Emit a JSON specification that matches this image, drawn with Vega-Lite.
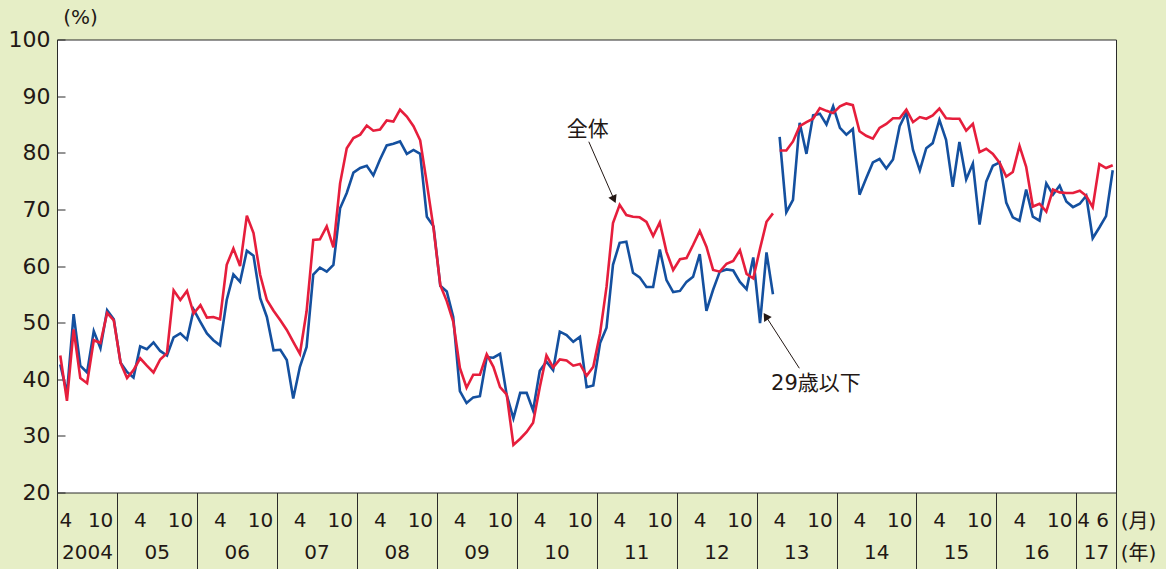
{
  "$schema": "https://vega.github.io/schema/vega-lite/v6.json",
  "width": 1059,
  "height": 453,
  "autosize": {"type": "none"},
  "padding": {"left": 57, "top": 39.5, "right": 50, "bottom": 76.5},
  "background": "#e6eec6",
  "config": {
    "font": "DejaVu Sans, Noto Sans CJK JP",
    "view": {"fill": "#ffffff", "stroke": "#2b2b2b", "strokeWidth": 1},
    "axis": {
      "labelColor": "#231815", "titleColor": "#231815",
      "labelFont": "DejaVu Sans, Noto Sans CJK JP", "titleFont": "DejaVu Sans, Noto Sans CJK JP",
      "titleFontWeight": "normal"
    },
    "axisY": {
      "grid": false, "domain": false,
      "tickSize": -8, "tickColor": "#2b2b2b", "tickWidth": 1,
      "labelPadding": 15, "labelFontSize": 22,
      "titleAngle": 0, "titleX": 23, "titleY": -22,
      "titleAlign": "center", "titleBaseline": "middle", "titleFontSize": 20
    }
  },
  "datasets": {
    "monthly": [
      {"月":"2004-04","区分":"前期","全体":44.2,"29歳以下":42.6},
      {"月":"2004-05","区分":"前期","全体":36.2,"29歳以下":37.5},
      {"月":"2004-06","区分":"前期","全体":48.8,"29歳以下":51.5},
      {"月":"2004-07","区分":"前期","全体":40.2,"29歳以下":42.4},
      {"月":"2004-08","区分":"前期","全体":39.3,"29歳以下":41.2},
      {"月":"2004-09","区分":"前期","全体":46.9,"29歳以下":48.5},
      {"月":"2004-10","区分":"前期","全体":46.4,"29歳以下":45.5},
      {"月":"2004-11","区分":"前期","全体":51.7,"29歳以下":52.2},
      {"月":"2004-12","区分":"前期","全体":50.4,"29歳以下":50.6},
      {"月":"2005-01","区分":"前期","全体":42.9,"29歳以下":42.9},
      {"月":"2005-02","区分":"前期","全体":40.2,"29歳以下":41.3},
      {"月":"2005-03","区分":"前期","全体":41.6,"29歳以下":40.3},
      {"月":"2005-04","区分":"前期","全体":43.7,"29歳以下":45.8},
      {"月":"2005-05","区分":"前期","全体":42.4,"29歳以下":45.3},
      {"月":"2005-06","区分":"前期","全体":41.2,"29歳以下":46.5},
      {"月":"2005-07","区分":"前期","全体":43.5,"29歳以下":45.0},
      {"月":"2005-08","区分":"前期","全体":44.6,"29歳以下":44.2},
      {"月":"2005-09","区分":"前期","全体":55.7,"29歳以下":47.4},
      {"月":"2005-10","区分":"前期","全体":54.0,"29歳以下":48.1},
      {"月":"2005-11","区分":"前期","全体":55.6,"29歳以下":47.0},
      {"月":"2005-12","区分":"前期","全体":51.6,"29歳以下":52.3},
      {"月":"2006-01","区分":"前期","全体":53.1,"29歳以下":50.1},
      {"月":"2006-02","区分":"前期","全体":50.9,"29歳以下":48.1},
      {"月":"2006-03","区分":"前期","全体":51.0,"29歳以下":46.9},
      {"月":"2006-04","区分":"前期","全体":50.6,"29歳以下":46.0},
      {"月":"2006-05","区分":"前期","全体":60.2,"29歳以下":54.0},
      {"月":"2006-06","区分":"前期","全体":63.1,"29歳以下":58.5},
      {"月":"2006-07","区分":"前期","全体":60.0,"29歳以下":57.2},
      {"月":"2006-08","区分":"前期","全体":68.9,"29歳以下":62.7},
      {"月":"2006-09","区分":"前期","全体":65.8,"29歳以下":61.8},
      {"月":"2006-10","区分":"前期","全体":58.4,"29歳以下":54.3},
      {"月":"2006-11","区分":"前期","全体":54.0,"29歳以下":51.0},
      {"月":"2006-12","区分":"前期","全体":52.1,"29歳以下":45.1},
      {"月":"2007-01","区分":"前期","全体":50.4,"29歳以下":45.2},
      {"月":"2007-02","区分":"前期","全体":48.7,"29歳以下":43.4},
      {"月":"2007-03","区分":"前期","全体":46.6,"29歳以下":36.6},
      {"月":"2007-04","区分":"前期","全体":44.5,"29歳以下":42.2},
      {"月":"2007-05","区分":"前期","全体":52.0,"29歳以下":45.7},
      {"月":"2007-06","区分":"前期","全体":64.6,"29歳以下":58.5},
      {"月":"2007-07","区分":"前期","全体":64.7,"29歳以下":59.7},
      {"月":"2007-08","区分":"前期","全体":67.0,"29歳以下":59.0},
      {"月":"2007-09","区分":"前期","全体":63.3,"29歳以下":60.2},
      {"月":"2007-10","区分":"前期","全体":74.6,"29歳以下":70.2},
      {"月":"2007-11","区分":"前期","全体":80.8,"29歳以下":72.9},
      {"月":"2007-12","区分":"前期","全体":82.6,"29歳以下":76.5},
      {"月":"2008-01","区分":"前期","全体":83.2,"29歳以下":77.3},
      {"月":"2008-02","区分":"前期","全体":84.8,"29歳以下":77.7},
      {"月":"2008-03","区分":"前期","全体":83.9,"29歳以下":76.0},
      {"月":"2008-04","区分":"前期","全体":84.1,"29歳以下":78.8},
      {"月":"2008-05","区分":"前期","全体":85.7,"29歳以下":81.3},
      {"月":"2008-06","区分":"前期","全体":85.5,"29歳以下":81.6},
      {"月":"2008-07","区分":"前期","全体":87.6,"29歳以下":82.0},
      {"月":"2008-08","区分":"前期","全体":86.4,"29歳以下":79.8},
      {"月":"2008-09","区分":"前期","全体":84.7,"29歳以下":80.5},
      {"月":"2008-10","区分":"前期","全体":82.2,"29歳以下":79.8},
      {"月":"2008-11","区分":"前期","全体":74.6,"29歳以下":68.7},
      {"月":"2008-12","区分":"前期","全体":66.7,"29歳以下":67.0},
      {"月":"2009-01","区分":"前期","全体":56.6,"29歳以下":56.5},
      {"月":"2009-02","区分":"前期","全体":53.8,"29歳以下":55.5},
      {"月":"2009-03","区分":"前期","全体":50.2,"29歳以下":51.0},
      {"月":"2009-04","区分":"前期","全体":42.0,"29歳以下":37.9},
      {"月":"2009-05","区分":"前期","全体":38.5,"29歳以下":35.8},
      {"月":"2009-06","区分":"前期","全体":40.8,"29歳以下":36.8},
      {"月":"2009-07","区分":"前期","全体":40.8,"29歳以下":37.0},
      {"月":"2009-08","区分":"前期","全体":44.4,"29歳以下":43.9},
      {"月":"2009-09","区分":"前期","全体":42.2,"29歳以下":43.8},
      {"月":"2009-10","区分":"前期","全体":38.6,"29歳以下":44.5},
      {"月":"2009-11","区分":"前期","全体":37.3,"29歳以下":37.2},
      {"月":"2009-12","区分":"前期","全体":28.4,"29歳以下":33.1},
      {"月":"2010-01","区分":"前期","全体":29.5,"29歳以下":37.6},
      {"月":"2010-02","区分":"前期","全体":30.7,"29歳以下":37.6},
      {"月":"2010-03","区分":"前期","全体":32.3,"29歳以下":34.5},
      {"月":"2010-04","区分":"前期","全体":38.6,"29歳以下":41.5},
      {"月":"2010-05","区分":"前期","全体":44.2,"29歳以下":43.1},
      {"月":"2010-06","区分":"前期","全体":42.1,"29歳以下":41.6},
      {"月":"2010-07","区分":"前期","全体":43.5,"29歳以下":48.4},
      {"月":"2010-08","区分":"前期","全体":43.3,"29歳以下":47.8},
      {"月":"2010-09","区分":"前期","全体":42.4,"29歳以下":46.6},
      {"月":"2010-10","区分":"前期","全体":42.7,"29歳以下":47.5},
      {"月":"2010-11","区分":"前期","全体":40.6,"29歳以下":38.6},
      {"月":"2010-12","区分":"前期","全体":42.2,"29歳以下":38.9},
      {"月":"2011-01","区分":"前期","全体":48.1,"29歳以下":46.4},
      {"月":"2011-02","区分":"前期","全体":56.3,"29歳以下":49.1},
      {"月":"2011-03","区分":"前期","全体":67.6,"29歳以下":60.2},
      {"月":"2011-04","区分":"前期","全体":70.8,"29歳以下":64.1},
      {"月":"2011-05","区分":"前期","全体":69.0,"29歳以下":64.3},
      {"月":"2011-06","区分":"前期","全体":68.7,"29歳以下":58.8},
      {"月":"2011-07","区分":"前期","全体":68.6,"29歳以下":58.0},
      {"月":"2011-08","区分":"前期","全体":67.8,"29歳以下":56.3},
      {"月":"2011-09","区分":"前期","全体":65.3,"29歳以下":56.3},
      {"月":"2011-10","区分":"前期","全体":67.7,"29歳以下":62.9},
      {"月":"2011-11","区分":"前期","全体":62.5,"29歳以下":57.5},
      {"月":"2011-12","区分":"前期","全体":59.3,"29歳以下":55.4},
      {"月":"2012-01","区分":"前期","全体":61.2,"29歳以下":55.6},
      {"月":"2012-02","区分":"前期","全体":61.4,"29歳以下":57.2},
      {"月":"2012-03","区分":"前期","全体":63.7,"29歳以下":58.1},
      {"月":"2012-04","区分":"前期","全体":66.2,"29歳以下":62.1},
      {"月":"2012-05","区分":"前期","全体":63.4,"29歳以下":52.1},
      {"月":"2012-06","区分":"前期","全体":59.3,"29歳以下":55.8},
      {"月":"2012-07","区分":"前期","全体":59.0,"29歳以下":59.0},
      {"月":"2012-08","区分":"前期","全体":60.4,"29歳以下":59.4},
      {"月":"2012-09","区分":"前期","全体":60.9,"29歳以下":59.2},
      {"月":"2012-10","区分":"前期","全体":62.8,"29歳以下":57.2},
      {"月":"2012-11","区分":"前期","全体":58.6,"29歳以下":55.9},
      {"月":"2012-12","区分":"前期","全体":57.8,"29歳以下":61.5},
      {"月":"2013-01","区分":"前期","全体":63.1,"29歳以下":49.9},
      {"月":"2013-02","区分":"前期","全体":67.8,"29歳以下":62.4},
      {"月":"2013-03","区分":"前期","全体":69.3,"29歳以下":55.0},
      {"月":"2013-04","区分":"後期","全体":80.4,"29歳以下":82.8},
      {"月":"2013-05","区分":"後期","全体":80.4,"29歳以下":69.5},
      {"月":"2013-06","区分":"後期","全体":82.0,"29歳以下":71.7},
      {"月":"2013-07","区分":"後期","全体":84.7,"29歳以下":85.3},
      {"月":"2013-08","区分":"後期","全体":85.4,"29歳以下":79.8},
      {"月":"2013-09","区分":"後期","全体":86.0,"29歳以下":86.6},
      {"月":"2013-10","区分":"後期","全体":87.9,"29歳以下":86.9},
      {"月":"2013-11","区分":"後期","全体":87.4,"29歳以下":85.0},
      {"月":"2013-12","区分":"後期","全体":87.0,"29歳以下":88.2},
      {"月":"2014-01","区分":"後期","全体":88.2,"29歳以下":84.4},
      {"月":"2014-02","区分":"後期","全体":88.7,"29歳以下":83.2},
      {"月":"2014-03","区分":"後期","全体":88.4,"29歳以下":84.2},
      {"月":"2014-04","区分":"後期","全体":83.8,"29歳以下":72.6},
      {"月":"2014-05","区分":"後期","全体":83.0,"29歳以下":75.5},
      {"月":"2014-06","区分":"後期","全体":82.5,"29歳以下":78.3},
      {"月":"2014-07","区分":"後期","全体":84.4,"29歳以下":78.9},
      {"月":"2014-08","区分":"後期","全体":85.1,"29歳以下":77.2},
      {"月":"2014-09","区分":"後期","全体":86.1,"29歳以下":78.8},
      {"月":"2014-10","区分":"後期","全体":86.1,"29歳以下":84.7},
      {"月":"2014-11","区分":"後期","全体":87.6,"29歳以下":87.1},
      {"月":"2014-12","区分":"後期","全体":85.4,"29歳以下":80.5},
      {"月":"2015-01","区分":"後期","全体":86.3,"29歳以下":76.9},
      {"月":"2015-02","区分":"後期","全体":86.0,"29歳以下":80.8},
      {"月":"2015-03","区分":"後期","全体":86.6,"29歳以下":81.7},
      {"月":"2015-04","区分":"後期","全体":87.8,"29歳以下":85.8},
      {"月":"2015-05","区分":"後期","全体":86.1,"29歳以下":82.3},
      {"月":"2015-06","区分":"後期","全体":86.0,"29歳以下":74.0},
      {"月":"2015-07","区分":"後期","全体":86.0,"29歳以下":81.9},
      {"月":"2015-08","区分":"後期","全体":83.9,"29歳以下":75.3},
      {"月":"2015-09","区分":"後期","全体":85.1,"29歳以下":78.1},
      {"月":"2015-10","区分":"後期","全体":80.1,"29歳以下":67.3},
      {"月":"2015-11","区分":"後期","全体":80.7,"29歳以下":74.9},
      {"月":"2015-12","区分":"後期","全体":79.8,"29歳以下":77.7},
      {"月":"2016-01","区分":"後期","全体":78.2,"29歳以下":78.3},
      {"月":"2016-02","区分":"後期","全体":75.8,"29歳以下":71.2},
      {"月":"2016-03","区分":"後期","全体":76.6,"29歳以下":68.6},
      {"月":"2016-04","区分":"後期","全体":81.2,"29歳以下":68.0},
      {"月":"2016-05","区分":"後期","全体":77.5,"29歳以下":73.5},
      {"月":"2016-06","区分":"後期","全体":70.5,"29歳以下":68.7},
      {"月":"2016-07","区分":"後期","全体":71.0,"29歳以下":68.0},
      {"月":"2016-08","区分":"後期","全体":69.6,"29歳以下":74.6},
      {"月":"2016-09","区分":"後期","全体":73.5,"29歳以下":72.6},
      {"月":"2016-10","区分":"後期","全体":73.0,"29歳以下":74.2},
      {"月":"2016-11","区分":"後期","全体":72.9,"29歳以下":71.4},
      {"月":"2016-12","区分":"後期","全体":72.9,"29歳以下":70.4},
      {"月":"2017-01","区分":"後期","全体":73.3,"29歳以下":71.0},
      {"月":"2017-02","区分":"後期","全体":72.4,"29歳以下":72.4},
      {"月":"2017-03","区分":"後期","全体":70.4,"29歳以下":64.9},
      {"月":"2017-04","区分":"後期","全体":78.0,"29歳以下":66.8},
      {"月":"2017-05","区分":"後期","全体":77.3,"29歳以下":68.8},
      {"月":"2017-06","区分":"後期","全体":77.8,"29歳以下":76.9}
    ],
    "notes": [
      {"系列":"全体","文字日":"2010-11-21","文字値":84.0,"始日":"2010-11-26","始値":81.95,"終日":"2011-03-19","終値":71.97},
      {"系列":"29歳以下","文字日":"2013-09-29","文字値":39.2,"始日":"2013-07-15","始値":41.94,"終日":"2013-02-15","終値":50.94}
    ]
  },
  "resolve": {"axis": {"x": "independent"}},
  "layer": [
    {
      "data": {"name": "monthly"},
      "mark": {"type": "line", "color": "#14509f", "strokeWidth": 2.6},
      "encoding": {
        "x": {
          "field": "月", "type": "temporal", "timeUnit": "utcyearmonth", "bandPosition": 0.5,
          "scale": {"type": "utc", "domain": [{"year": 2004, "month": 4, "date": 1, "utc": true}, {"year": 2017, "month": 7, "date": 1, "utc": true}]},
          "axis": {
            "orient": "bottom", "title": null, "labels": false, "domain": false, "grid": false,
            "tickSize": 77, "tickColor": "#2b2b2b", "tickWidth": 1,
            "values": [
              {"year": 2004, "month": 4, "date": 1, "utc": true},
              {"year": 2005, "month": 1, "date": 1, "utc": true},
              {"year": 2006, "month": 1, "date": 1, "utc": true},
              {"year": 2007, "month": 1, "date": 1, "utc": true},
              {"year": 2008, "month": 1, "date": 1, "utc": true},
              {"year": 2009, "month": 1, "date": 1, "utc": true},
              {"year": 2010, "month": 1, "date": 1, "utc": true},
              {"year": 2011, "month": 1, "date": 1, "utc": true},
              {"year": 2012, "month": 1, "date": 1, "utc": true},
              {"year": 2013, "month": 1, "date": 1, "utc": true},
              {"year": 2014, "month": 1, "date": 1, "utc": true},
              {"year": 2015, "month": 1, "date": 1, "utc": true},
              {"year": 2016, "month": 1, "date": 1, "utc": true},
              {"year": 2017, "month": 1, "date": 1, "utc": true},
              {"year": 2017, "month": 7, "date": 1, "utc": true}
            ]
          }
        },
        "y": {
          "field": "29歳以下", "type": "quantitative", "title": "(%)",
          "scale": {"domain": [20, 100], "nice": false, "zero": false},
          "axis": {"values": [20, 30, 40, 50, 60, 70, 80, 90, 100]}
        },
        "detail": {"field": "区分", "type": "nominal"}
      }
    },
    {
      "data": {"name": "monthly"},
      "mark": {"type": "line", "color": "#e61e3c", "strokeWidth": 2.6},
      "encoding": {
        "x": {
          "field": "月", "type": "temporal", "timeUnit": "utcyearmonth", "bandPosition": 0.5,
          "scale": {"type": "utc", "domain": [{"year": 2004, "month": 4, "date": 1, "utc": true}, {"year": 2017, "month": 7, "date": 1, "utc": true}]},
          "axis": {
            "orient": "bottom", "ticks": false, "domain": false, "grid": false,
            "labelFontSize": 20, "labelPadding": 28, "labelBaseline": "middle",
            "labelOverlap": false, "labelFlush": false,
            "labelExpr": "utcyear(datum.value) == 2017 ? (utcmonth(datum.value) < 3 ? '4' : '6') : (utcmonth(datum.value) < 6 ? '4' : '10')",
            "title": "(月)", "titleX": 1081, "titleY": 28.5, "titleAngle": 0,
            "titleAlign": "center", "titleBaseline": "middle", "titleFontSize": 20,
            "values": [
              {"year": 2004, "month": 5, "date": 9, "utc": true},
              {"year": 2004, "month": 10, "date": 15, "utc": true},
              {"year": 2005, "month": 4, "date": 15, "utc": true},
              {"year": 2005, "month": 10, "date": 15, "utc": true},
              {"year": 2006, "month": 4, "date": 15, "utc": true},
              {"year": 2006, "month": 10, "date": 15, "utc": true},
              {"year": 2007, "month": 4, "date": 15, "utc": true},
              {"year": 2007, "month": 10, "date": 15, "utc": true},
              {"year": 2008, "month": 4, "date": 15, "utc": true},
              {"year": 2008, "month": 10, "date": 15, "utc": true},
              {"year": 2009, "month": 4, "date": 15, "utc": true},
              {"year": 2009, "month": 10, "date": 15, "utc": true},
              {"year": 2010, "month": 4, "date": 15, "utc": true},
              {"year": 2010, "month": 10, "date": 15, "utc": true},
              {"year": 2011, "month": 4, "date": 15, "utc": true},
              {"year": 2011, "month": 10, "date": 15, "utc": true},
              {"year": 2012, "month": 4, "date": 15, "utc": true},
              {"year": 2012, "month": 10, "date": 15, "utc": true},
              {"year": 2013, "month": 4, "date": 15, "utc": true},
              {"year": 2013, "month": 10, "date": 15, "utc": true},
              {"year": 2014, "month": 4, "date": 15, "utc": true},
              {"year": 2014, "month": 10, "date": 15, "utc": true},
              {"year": 2015, "month": 4, "date": 15, "utc": true},
              {"year": 2015, "month": 10, "date": 15, "utc": true},
              {"year": 2016, "month": 4, "date": 15, "utc": true},
              {"year": 2016, "month": 10, "date": 15, "utc": true},
              {"year": 2017, "month": 2, "date": 1, "utc": true},
              {"year": 2017, "month": 4, "date": 29, "utc": true}
            ]
          }
        },
        "y": {
          "field": "全体", "type": "quantitative", "title": "(%)",
          "scale": {"domain": [20, 100], "nice": false, "zero": false}
        },
        "detail": {"field": "区分", "type": "nominal"}
      }
    },
    {
      "data": {"name": "notes"},
      "mark": {"type": "rule", "color": "#231815", "strokeWidth": 1},
      "encoding": {
        "x": {
          "field": "始日", "type": "temporal",
          "scale": {"type": "utc", "domain": [{"year": 2004, "month": 4, "date": 1, "utc": true}, {"year": 2017, "month": 7, "date": 1, "utc": true}]},
          "axis": {
            "orient": "bottom", "ticks": false, "domain": false, "grid": false,
            "labelFontSize": 20, "labelPadding": 60, "labelBaseline": "middle",
            "labelOverlap": false, "labelFlush": false,
            "labelExpr": "utcyear(datum.value) == 2004 ? '2004' : utcFormat(datum.value, '%y')",
            "title": "(年)", "titleX": 1081, "titleY": 60.5, "titleAngle": 0,
            "titleAlign": "center", "titleBaseline": "middle", "titleFontSize": 20,
            "values": [
              {"year": 2004, "month": 8, "date": 16, "utc": true},
              {"year": 2005, "month": 7, "date": 1, "utc": true},
              {"year": 2006, "month": 7, "date": 1, "utc": true},
              {"year": 2007, "month": 7, "date": 1, "utc": true},
              {"year": 2008, "month": 7, "date": 1, "utc": true},
              {"year": 2009, "month": 7, "date": 1, "utc": true},
              {"year": 2010, "month": 7, "date": 1, "utc": true},
              {"year": 2011, "month": 7, "date": 1, "utc": true},
              {"year": 2012, "month": 7, "date": 1, "utc": true},
              {"year": 2013, "month": 7, "date": 1, "utc": true},
              {"year": 2014, "month": 7, "date": 1, "utc": true},
              {"year": 2015, "month": 7, "date": 1, "utc": true},
              {"year": 2016, "month": 7, "date": 1, "utc": true},
              {"year": 2017, "month": 4, "date": 1, "utc": true}
            ]
          }
        },
        "x2": {"field": "終日"},
        "y": {"field": "始値", "type": "quantitative", "title": "(%)", "scale": {"domain": [20, 100], "nice": false, "zero": false}},
        "y2": {"field": "終値"}
      }
    },
    {
      "data": {"name": "notes"},
      "transform": [{"filter": "datum['系列'] == '全体'"}],
      "mark": {"type": "point", "shape": "triangle", "filled": true, "color": "#231815", "size": 80, "angle": 156, "opacity": 1},
      "encoding": {
        "x": {"field": "終日", "type": "temporal", "scale": {"type": "utc", "domain": [{"year": 2004, "month": 4, "date": 1, "utc": true}, {"year": 2017, "month": 7, "date": 1, "utc": true}]}, "axis": null},
        "y": {"field": "終値", "type": "quantitative", "title": "(%)", "scale": {"domain": [20, 100], "nice": false, "zero": false}}
      }
    },
    {
      "data": {"name": "notes"},
      "transform": [{"filter": "datum['系列'] == '29歳以下'"}],
      "mark": {"type": "point", "shape": "triangle", "filled": true, "color": "#231815", "size": 80, "angle": 327, "opacity": 1},
      "encoding": {
        "x": {"field": "終日", "type": "temporal", "scale": {"type": "utc", "domain": [{"year": 2004, "month": 4, "date": 1, "utc": true}, {"year": 2017, "month": 7, "date": 1, "utc": true}]}, "axis": null},
        "y": {"field": "終値", "type": "quantitative", "title": "(%)", "scale": {"domain": [20, 100], "nice": false, "zero": false}}
      }
    },
    {
      "data": {"name": "notes"},
      "mark": {"type": "text", "fontSize": 21, "color": "#231815", "align": "center", "baseline": "middle", "font": "DejaVu Sans, Noto Sans CJK JP"},
      "encoding": {
        "x": {"field": "文字日", "type": "temporal", "scale": {"type": "utc", "domain": [{"year": 2004, "month": 4, "date": 1, "utc": true}, {"year": 2017, "month": 7, "date": 1, "utc": true}]}, "axis": null},
        "y": {"field": "文字値", "type": "quantitative", "title": "(%)", "scale": {"domain": [20, 100], "nice": false, "zero": false}},
        "text": {"field": "系列"}
      }
    }
  ]
}
